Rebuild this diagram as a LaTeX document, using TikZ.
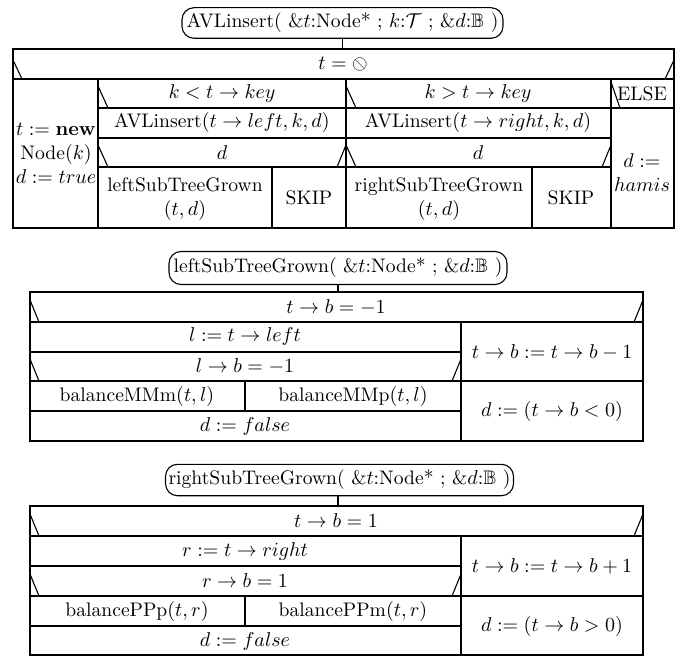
\documentclass[tikz,border=0pt]{standalone}
\usepackage{amssymb}
\usepackage{graphicx}
\newcommand{\obsl}{\mathbin{\reflectbox{$\oslash$}}}
\tikzset{
  ln/.style={line width=0.55pt},
  ttl/.style={draw, line width=0.55pt, rounded corners=6pt, inner sep=0pt, align=center},
  txt/.style={inner sep=0pt, align=center, font=\fontsize{9.8pt}{12pt}\selectfont},
}
\begin{document}
\begin{tikzpicture}[x=0.5pt,y=-0.5pt]
\useasboundingbox (0,0) rectangle (684,667);
\fill[white] (0,0) rectangle (684,667);
\tikzset{every node/.style={txt}}
% ================= AVLinsert =================
\node[ttl, minimum width=160.5pt, minimum height=15.3pt] (T1) at (342.5,23)
  {AVLinsert( \&$t$:Node* ; $k$:$\mathcal{T}$ ; \&$d$:$\mathbb{B}$ )};
\coordinate (C1) at (343,49);
\draw[ln] (T1.south) -- (T1.south |- C1);
\draw[ln] (13,49) rectangle (674,228);
\draw[ln] (13,79) -- (674,79);
\draw[ln] (98,79) -- (98,228);
\draw[ln] (346,79) -- (346,228);
\draw[ln] (611,79) -- (611,228);
\draw[ln] (98,108) -- (674,108);
\draw[ln] (98,138) -- (611,138);
\draw[ln] (98,167) -- (611,167);
\draw[ln] (272,167) -- (272,228);
\draw[ln] (532,167) -- (532,228);
% stubs
\draw[ln] (13,60) -- (22,79);
\draw[ln] (674,60) -- (665,79);
\draw[ln] (98,86) -- (108,108);
\draw[ln] (346,86) -- (356,108);
\draw[ln] (611,82) -- (620,108);
\draw[ln] (98,145) -- (108,167);
\draw[ln] (346,145) -- (337,167);
\draw[ln] (346,145) -- (356,167);
\draw[ln] (611,145) -- (602,167);
% texts
\node (a0) at (343,64) {$t=\obsl$};
\node (a1) at (56,153) {$t:=\mathbf{new}$\\Node$(k)$\\$d:=true$};
\node (a2) at (222,94) {$k<t\rightarrow key$};
\node (a3) at (478,94) {$k>t\rightarrow key$};
\node (a4) at (642,94) {ELSE};
\node (a5) at (222,123) {AVLinsert$(t\rightarrow left,k,d)$};
\node (a6) at (478,123) {AVLinsert$(t\rightarrow right,k,d)$};
\node (a7) at (222,153) {$d$};
\node (a8) at (478,153) {$d$};
\node (a9) at (185,199) {leftSubTreeGrown\\$(t,d)$};
\node (a10) at (309,198) {SKIP};
\node (a11) at (439,199) {rightSubTreeGrown\\$(t,d)$};
\node (a12) at (571,198) {SKIP};
\node (a13) at (642,173) {$d:=$\\$hamis$};
% ================= leftSubTreeGrown =================
\node[ttl, minimum width=169pt, minimum height=16.5pt] (T2) at (338,268)
  {leftSubTreeGrown( \&$t$:Node* ; \&$d$:$\mathbb{B}$ )};
\coordinate (C2) at (338,292);
\draw[ln] (T2.south) -- (T2.south |- C2);
\draw[ln] (30,292) rectangle (643,441);
\draw[ln] (30,322) -- (643,322);
\draw[ln] (461,322) -- (461,441);
\draw[ln] (30,352) -- (461,352);
\draw[ln] (30,381) -- (643,381);
\draw[ln] (30,411) -- (461,411);
\draw[ln] (245,381) -- (245,411);
\draw[ln] (30,300) -- (39,322);
\draw[ln] (643,300) -- (634,322);
\draw[ln] (30,359) -- (39,381);
\draw[ln] (461,359) -- (452,381);
\node (b0) at (336,307) {$t\rightarrow b=-1$};
\node (b1) at (245,337) {$l:=t\rightarrow left$};
\node (b2) at (245,366) {$l\rightarrow b=-1$};
\node (b3) at (137,396) {balanceMMm$(t,l)$};
\node (b4) at (353,396) {balanceMMp$(t,l)$};
\node (b5) at (245,426) {$d:=false$};
\node (b6) at (552,352) {$t\rightarrow b:=t\rightarrow b-1$};
\node (b7) at (552,411) {$d:=(t\rightarrow b<0)$};
% ================= rightSubTreeGrown =================
\node[ttl, minimum width=174pt, minimum height=15.7pt] (T3) at (339.5,480)
  {rightSubTreeGrown( \&$t$:Node* ; \&$d$:$\mathbb{B}$ )};
\coordinate (C3) at (338,506);
\draw[ln] (C3 |- T3.south) -- (C3);
\draw[ln] (30,506) rectangle (643,655);
\draw[ln] (30,536) -- (643,536);
\draw[ln] (461,536) -- (461,655);
\draw[ln] (30,566) -- (461,566);
\draw[ln] (30,596) -- (643,596);
\draw[ln] (30,626) -- (461,626);
\draw[ln] (245,596) -- (245,626);
\draw[ln] (30,514) -- (39,536);
\draw[ln] (643,514) -- (634,536);
\draw[ln] (30,574) -- (39,596);
\draw[ln] (461,574) -- (452,596);
\node (c0) at (336,521) {$t\rightarrow b=1$};
\node (c1) at (245,551) {$r:=t\rightarrow right$};
\node (c2) at (245,581) {$r\rightarrow b=1$};
\node (c3) at (137,611) {balancePPp$(t,r)$};
\node (c4) at (353,611) {balancePPm$(t,r)$};
\node (c5) at (245,641) {$d:=false$};
\node (c6) at (552,566) {$t\rightarrow b:=t\rightarrow b+1$};
\node (c7) at (552,626) {$d:=(t\rightarrow b>0)$};
\end{tikzpicture}
\end{document}
